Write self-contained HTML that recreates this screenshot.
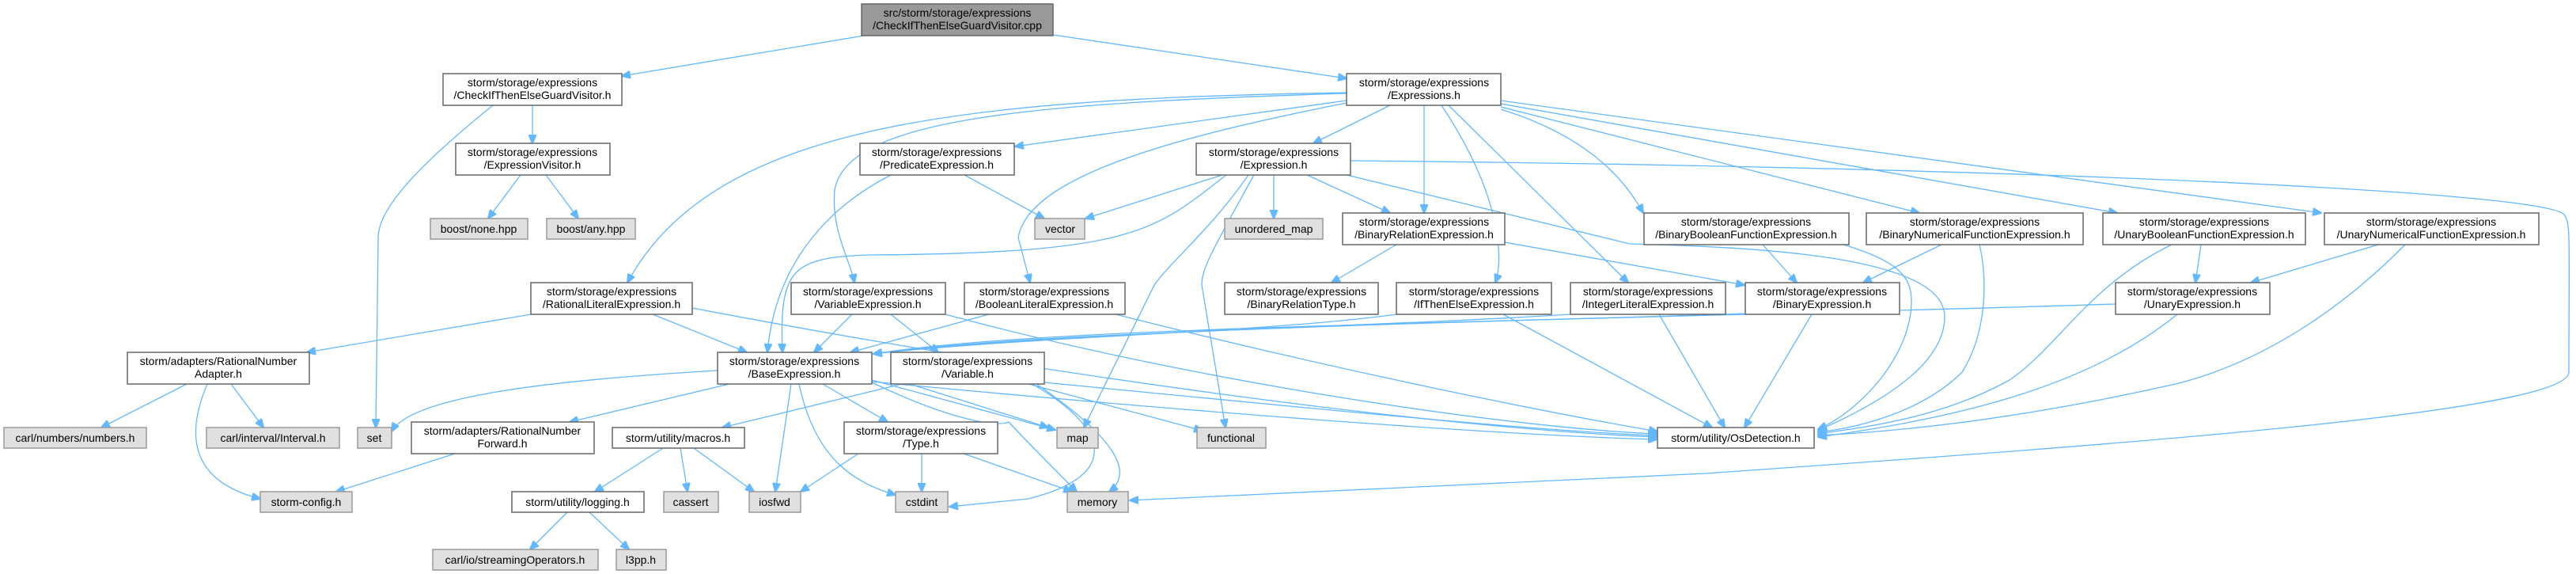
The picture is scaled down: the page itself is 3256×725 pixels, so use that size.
<!DOCTYPE html>
<html><head><meta charset="utf-8"><style>
html,body{margin:0;padding:0;background:#fff;}
svg{display:block;}
text{font-family:"Liberation Sans",sans-serif;font-size:14px;fill:#000;text-anchor:middle;}
.w{fill:#fff;stroke:#666;stroke-width:1.5;}
.g{fill:#e0e0e0;stroke:#999;stroke-width:1.5;}
.r{fill:#999;stroke:#666;stroke-width:1.5;}
path{fill:none;stroke:#63b8ff;stroke-width:1.3;}
</style></head><body>
<svg width="3256" height="725" viewBox="0 0 3256 725" xmlns="http://www.w3.org/2000/svg">
<defs><marker id="a" markerWidth="12" markerHeight="10" refX="11" refY="5" orient="auto" markerUnits="userSpaceOnUse"><path d="M0,0 L12,5 L0,10 Z" style="fill:#63b8ff;stroke:#63b8ff"/></marker></defs>
<g marker-end="url(#a)">
<path d="M1092,45 L786,96"/>
<path d="M1331,44 L1702,99"/>
<path d="M673,133 L673,181"/>
<path d="M623,133 C540,200 478,260 478,300 L475,540"/>
<path d="M658,221 L617,276"/>
<path d="M690,221 L731,276"/>
<path d="M1702,117 C1200,125 900,160 793,357"/>
<path d="M1702,118 C1300,130 1070,150 1055,240 C1050,290 1075,330 1080,357"/>
<path d="M1702,127 L1283,185"/>
<path d="M1702,130 C1500,170 1300,220 1287,300 L1302,357"/>
<path d="M1757,133 L1660,181"/>
<path d="M1800,133 L1800,269"/>
<path d="M1822,133 C1900,250 1900,330 1890,357"/>
<path d="M1831,133 L2058,357"/>
<path d="M1897,138 C2000,170 2050,220 2077,269"/>
<path d="M1897,135 L2426,269"/>
<path d="M1897,131 L2676,269"/>
<path d="M1897,127 L2934,269"/>
<path d="M1707,203 C2500,210 3200,240 3240,270 C3250,280 3247,300 3247,470 C3247,520 2700,560 2156,598 L1428,632"/>
<path d="M1545,221 L1372,276"/>
<path d="M1219,221 L1320,276"/>
<path d="M1610,221 L1610,276"/>
<path d="M1652,221 L1757,269"/>
<path d="M1550,221 C1460,290 1440,320 1100,322 C1000,325 985,340 989,445"/>
<path d="M1126,221 C1050,260 980,330 970,445"/>
<path d="M1578,221 C1530,290 1480,330 1459,360 L1370,540"/>
<path d="M1585,221 C1530,320 1519,340 1519,360 L1549,540"/>
<path d="M1702,221 L2060,308 C2200,312 2458,320 2458,400 C2458,470 2350,520 2298,544"/>
<path d="M1765,309 L1683,357"/>
<path d="M1902,306 L2205,360"/>
<path d="M2228,309 L2271,357"/>
<path d="M2330,309 C2400,330 2416,350 2416,380 C2416,450 2350,520 2298,542"/>
<path d="M2502,309 C2512,350 2512,420 2480,470 C2430,520 2350,540 2298,546"/>
<path d="M2454,309 L2355,357"/>
<path d="M2782,309 L2775,357"/>
<path d="M2745,309 C2640,360 2600,440 2540,480 C2450,530 2350,540 2298,548"/>
<path d="M3006,309 L2845,357"/>
<path d="M3040,309 C2950,400 2850,460 2750,485 C2550,530 2400,545 2298,550"/>
<path d="M2752,397 C2650,480 2500,525 2298,552"/>
<path d="M2674,384 C2200,400 1400,410 1104,447"/>
<path d="M2206,396 C1800,410 1300,415 1104,447"/>
<path d="M1985,397 C1700,415 1300,420 1104,447"/>
<path d="M1765,397 C1600,420 1300,425 1104,447"/>
<path d="M1250,397 L1075,445"/>
<path d="M1077,397 L1029,445"/>
<path d="M825,397 L944,445"/>
<path d="M671,397 L388,445"/>
<path d="M875,389 C1300,470 1800,540 2094,552"/>
<path d="M1126,397 L1186,445"/>
<path d="M1195,397 C1500,480 1900,540 2094,548"/>
<path d="M1410,397 C1700,470 1950,520 2095,545"/>
<path d="M1900,397 L2164,540"/>
<path d="M2097,397 L2180,540"/>
<path d="M2290,397 L2205,540"/>
<path d="M907,468 C700,480 520,500 495,545"/>
<path d="M922,485 L720,533"/>
<path d="M1000,485 L980,621"/>
<path d="M1010,485 C1030,580 1080,610 1132,625"/>
<path d="M1040,485 L1122,533"/>
<path d="M1102,480 L1334,543"/>
<path d="M1102,483 C1200,530 1260,540 1275,533 C1300,560 1340,600 1361,621"/>
<path d="M1102,482 C1500,520 1900,550 2094,555"/>
<path d="M1140,485 L913,540"/>
<path d="M1150,485 L1325,540"/>
<path d="M1300,485 L1520,544"/>
<path d="M1305,485 C1400,540 1420,600 1300,630 L1200,640"/>
<path d="M1310,485 C1420,560 1430,600 1402,621"/>
<path d="M1320,483 C1700,520 1950,545 2094,550"/>
<path d="M236,485 L128,540"/>
<path d="M292,485 L333,540"/>
<path d="M262,485 C230,560 250,610 329,630"/>
<path d="M575,573 L425,621"/>
<path d="M838,566 L752,621"/>
<path d="M860,566 L869,621"/>
<path d="M877,566 L953,621"/>
<path d="M1085,573 L1012,621"/>
<path d="M1165,573 L1165,621"/>
<path d="M1218,573 L1355,621"/>
<path d="M717,647 L670,694"/>
<path d="M745,647 L795,694"/>
</g>

<rect class="r" x="1089" y="5" width="242" height="40"/><text x="1210" y="21">src/storm/storage/expressions</text><text x="1210" y="37">/CheckIfThenElseGuardVisitor.cpp</text>
<rect class="w" x="560" y="93" width="226" height="40"/><text x="673" y="109">storm/storage/expressions</text><text x="673" y="125">/CheckIfThenElseGuardVisitor.h</text>
<rect class="w" x="1702" y="93" width="195" height="40"/><text x="1800" y="109">storm/storage/expressions</text><text x="1800" y="125">/Expressions.h</text>
<rect class="w" x="576" y="181" width="195" height="40"/><text x="673" y="197">storm/storage/expressions</text><text x="673" y="213">/ExpressionVisitor.h</text>
<rect class="w" x="1087" y="181" width="195" height="40"/><text x="1184" y="197">storm/storage/expressions</text><text x="1184" y="213">/PredicateExpression.h</text>
<rect class="w" x="1512" y="181" width="195" height="40"/><text x="1610" y="197">storm/storage/expressions</text><text x="1610" y="213">/Expression.h</text>
<rect class="g" x="544" y="276" width="123" height="26"/><text x="605" y="294">boost/none.hpp</text>
<rect class="g" x="691" y="276" width="112" height="26"/><text x="747" y="294">boost/any.hpp</text>
<rect class="g" x="1308" y="276" width="63" height="26"/><text x="1340" y="294">vector</text>
<rect class="g" x="1548" y="276" width="124" height="26"/><text x="1610" y="294">unordered_map</text>
<rect class="w" x="1697" y="269" width="205" height="40"/><text x="1800" y="285">storm/storage/expressions</text><text x="1800" y="301">/BinaryRelationExpression.h</text>
<rect class="w" x="2078" y="269" width="259" height="40"/><text x="2207" y="285">storm/storage/expressions</text><text x="2207" y="301">/BinaryBooleanFunctionExpression.h</text>
<rect class="w" x="2359" y="269" width="274" height="40"/><text x="2496" y="285">storm/storage/expressions</text><text x="2496" y="301">/BinaryNumericalFunctionExpression.h</text>
<rect class="w" x="2658" y="269" width="256" height="40"/><text x="2786" y="285">storm/storage/expressions</text><text x="2786" y="301">/UnaryBooleanFunctionExpression.h</text>
<rect class="w" x="2938" y="269" width="271" height="40"/><text x="3073" y="285">storm/storage/expressions</text><text x="3073" y="301">/UnaryNumericalFunctionExpression.h</text>
<rect class="w" x="671" y="357" width="204" height="40"/><text x="773" y="373">storm/storage/expressions</text><text x="773" y="389">/RationalLiteralExpression.h</text>
<rect class="w" x="1000" y="357" width="195" height="40"/><text x="1097" y="373">storm/storage/expressions</text><text x="1097" y="389">/VariableExpression.h</text>
<rect class="w" x="1219" y="357" width="203" height="40"/><text x="1320" y="373">storm/storage/expressions</text><text x="1320" y="389">/BooleanLiteralExpression.h</text>
<rect class="w" x="1548" y="357" width="194" height="40"/><text x="1645" y="373">storm/storage/expressions</text><text x="1645" y="389">/BinaryRelationType.h</text>
<rect class="w" x="1765" y="357" width="196" height="40"/><text x="1863" y="373">storm/storage/expressions</text><text x="1863" y="389">/IfThenElseExpression.h</text>
<rect class="w" x="1985" y="357" width="196" height="40"/><text x="2083" y="373">storm/storage/expressions</text><text x="2083" y="389">/IntegerLiteralExpression.h</text>
<rect class="w" x="2206" y="357" width="195" height="40"/><text x="2303" y="373">storm/storage/expressions</text><text x="2303" y="389">/BinaryExpression.h</text>
<rect class="w" x="2674" y="357" width="195" height="40"/><text x="2771" y="373">storm/storage/expressions</text><text x="2771" y="389">/UnaryExpression.h</text>
<rect class="w" x="161" y="445" width="230" height="40"/><text x="276" y="461">storm/adapters/RationalNumber</text><text x="276" y="477">Adapter.h</text>
<rect class="w" x="907" y="445" width="195" height="40"/><text x="1004" y="461">storm/storage/expressions</text><text x="1004" y="477">/BaseExpression.h</text>
<rect class="w" x="1126" y="445" width="194" height="40"/><text x="1223" y="461">storm/storage/expressions</text><text x="1223" y="477">/Variable.h</text>
<rect class="g" x="5" y="540" width="180" height="26"/><text x="95" y="558">carl/numbers/numbers.h</text>
<rect class="g" x="261" y="540" width="168" height="26"/><text x="345" y="558">carl/interval/Interval.h</text>
<rect class="g" x="452" y="540" width="43" height="26"/><text x="473" y="558">set</text>
<rect class="w" x="520" y="533" width="231" height="40"/><text x="635" y="549">storm/adapters/RationalNumber</text><text x="635" y="565">Forward.h</text>
<rect class="w" x="774" y="540" width="167" height="26"/><text x="857" y="558">storm/utility/macros.h</text>
<rect class="w" x="1067" y="533" width="194" height="40"/><text x="1164" y="549">storm/storage/expressions</text><text x="1164" y="565">/Type.h</text>
<rect class="g" x="1336" y="540" width="52" height="26"/><text x="1362" y="558">map</text>
<rect class="g" x="1513" y="540" width="87" height="26"/><text x="1556" y="558">functional</text>
<rect class="w" x="2095" y="540" width="198" height="26"/><text x="2194" y="558">storm/utility/OsDetection.h</text>
<rect class="g" x="329" y="621" width="116" height="26"/><text x="387" y="639">storm-config.h</text>
<rect class="w" x="647" y="621" width="167" height="26"/><text x="730" y="639">storm/utility/logging.h</text>
<rect class="g" x="839" y="621" width="69" height="26"/><text x="873" y="639">cassert</text>
<rect class="g" x="947" y="621" width="65" height="26"/><text x="979" y="639">iosfwd</text>
<rect class="g" x="1132" y="621" width="66" height="26"/><text x="1165" y="639">cstdint</text>
<rect class="g" x="1349" y="621" width="77" height="26"/><text x="1387" y="639">memory</text>
<rect class="g" x="547" y="694" width="209" height="26"/><text x="651" y="712">carl/io/streamingOperators.h</text>
<rect class="g" x="779" y="694" width="63" height="26"/><text x="810" y="712">l3pp.h</text>
</svg>
</body></html>
